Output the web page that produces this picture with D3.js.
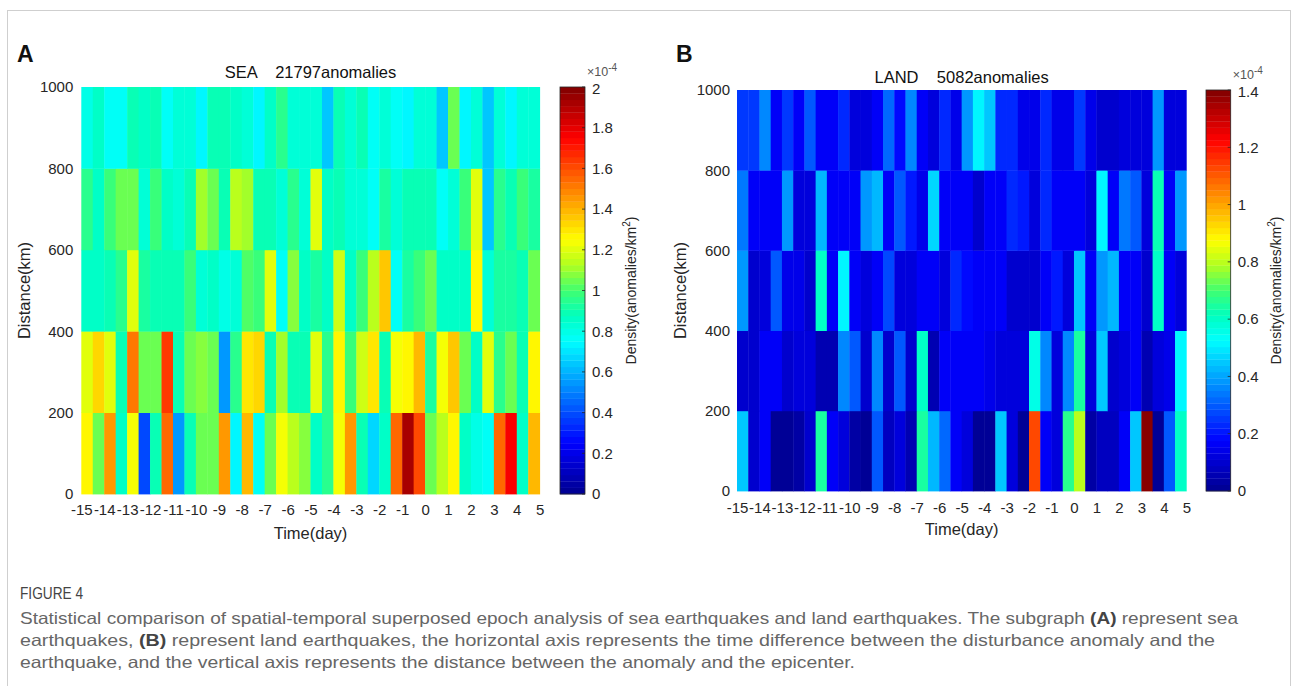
<!DOCTYPE html>
<html>
<head>
<meta charset="utf-8">
<script src="https://cdn.jsdelivr.net/npm/d3@7"></script>
<style>
body { margin: 0; background: #fff; }
svg text { font-family: Arial, 'Liberation Sans', sans-serif; }
.caption { font-family: 'Liberation Sans Narrow', 'Liberation Sans', Arial, sans-serif; }
</style>
</head>
<body>
<svg id="canvas" width="1293" height="686"></svg>
<script>
// half-day bins, start of each bin (day)
let timeBins = [-15, -14.5, -14, -13.5, -13, -12.5, -12, -11.5, -11, -10.5, -10, -9.5, -9, -8.5, -8, -7.5, -7, -6.5, -6, -5.5,
    -5, -4.5, -4, -3.5, -3, -2.5, -2, -1.5, -1, -0.5, 0, 0.5, 1, 1.5, 2, 2.5, 3, 3.5, 4, 4.5]
let distanceBins = [0, 200, 400, 600, 800]
let dayTicks = [-15, -14, -13, -12, -11, -10, -9, -8, -7, -6, -5, -4, -3, -2, -1, 0, 1, 2, 3, 4, 5]
let distanceTicks = [0, 200, 400, 600, 800, 1000]
let seaTicks = [0, 0.2, 0.4, 0.6, 0.8, 1, 1.2, 1.4, 1.6, 1.8, 2]
let landTicks = [0, 0.2, 0.4, 0.6, 0.8, 1, 1.2, 1.4]

// density x1e-4 anomalies/km2, SEA
let sea_0_200 = [1.28, 1.05, 1.45, 0.87, 1.23, 0.40, 0.88, 1.55, 0.55, 0.88, 1.05, 1.05, 1.45, 0.73, 1.40, 0.75, 1.05, 1.22, 1.15, 1.07,
    0.85, 0.95, 1.22, 1.45, 0.88, 0.68, 0.85, 1.55, 1.92, 1.60, 1.05, 1.13, 1.28, 0.85, 0.80, 0.75, 1.55, 1.75, 0.87, 1.38]
let sea_200_400 = [1.20, 1.33, 1.20, 0.88, 1.52, 1.05, 1.05, 1.65, 0.90, 1.05, 1.08, 1.05, 0.55, 0.95, 1.30, 1.33, 0.88, 1.12, 0.88, 0.88,
    1.20, 0.95, 1.25, 0.97, 1.18, 1.30, 0.88, 1.22, 1.28, 1.38, 0.93, 1.22, 1.35, 1.05, 0.87, 1.20, 0.95, 1.05, 0.88, 1.28]
let sea_400_600 = [0.85, 0.85, 0.90, 0.95, 1.20, 0.93, 0.90, 0.90, 0.90, 0.97, 0.83, 0.85, 0.80, 0.83, 1.03, 0.97, 1.20, 0.75, 1.07, 0.85,
    0.93, 0.85, 1.18, 0.85, 0.97, 1.15, 1.35, 0.75, 0.93, 0.97, 1.05, 0.85, 0.85, 0.85, 1.27, 0.82, 0.92, 0.92, 0.90, 1.05]
let sea_600_800 = [0.95, 0.85, 0.97, 1.05, 1.05, 0.82, 0.97, 0.87, 0.83, 0.90, 1.10, 1.05, 0.90, 1.15, 1.10, 0.90, 0.90, 0.83, 0.95, 0.82,
    1.20, 0.85, 0.88, 0.82, 0.82, 0.77, 0.93, 0.83, 0.90, 0.90, 0.90, 0.78, 0.82, 0.97, 1.20, 0.63, 0.95, 0.88, 0.97, 0.93]
let sea_800_1000 = [0.80, 0.85, 0.75, 0.78, 0.90, 0.85, 0.88, 0.77, 0.82, 0.83, 0.72, 0.90, 0.90, 0.85, 0.83, 0.72, 0.85, 0.95, 0.83, 0.83,
    0.83, 0.65, 0.88, 0.82, 0.88, 0.76, 0.82, 0.78, 0.73, 0.83, 0.83, 0.65, 1.05, 0.72, 0.83, 0.63, 0.83, 0.72, 0.84, 0.84]

// LAND
let land_0_200 = [0.44, 0.09, 0.17, 0.02, 0.02, 0.04, 0.10, 0.65, 0.17, 0.12, 0.04, 0.01, 0.29, 0.07, 0.12, 0.06, 0.65, 0.42, 0.31, 0.16,
    0.12, 0.01, 0.01, 0.44, 0.12, 0.02, 1.12, 0.17, 0.12, 0.66, 0.80, 0.04, 0.07, 0.07, 0.17, 0.44, 1.38, 0.02, 0.29, 0.60]
let land_200_400 = [0.09, 0.09, 0.17, 0.17, 0.10, 0.12, 0.12, 0.06, 0.06, 0.35, 0.29, 0.10, 0.35, 0.10, 0.29, 0.10, 0.60, 0.06, 0.17, 0.16,
    0.17, 0.17, 0.14, 0.12, 0.12, 0.12, 0.55, 0.35, 0.12, 0.35, 0.65, 0.12, 0.44, 0.10, 0.12, 0.17, 0.06, 0.12, 0.14, 0.52]
let land_400_600 = [0.38, 0.09, 0.12, 0.29, 0.14, 0.14, 0.09, 0.60, 0.17, 0.52, 0.17, 0.12, 0.17, 0.27, 0.12, 0.12, 0.16, 0.16, 0.12, 0.23,
    0.19, 0.17, 0.17, 0.17, 0.10, 0.10, 0.09, 0.17, 0.20, 0.12, 0.44, 0.17, 0.38, 0.43, 0.16, 0.16, 0.10, 0.60, 0.17, 0.12]
let land_600_800 = [0.33, 0.17, 0.17, 0.17, 0.38, 0.12, 0.12, 0.43, 0.17, 0.17, 0.17, 0.38, 0.43, 0.17, 0.29, 0.20, 0.14, 0.48, 0.17, 0.17,
    0.16, 0.10, 0.17, 0.17, 0.23, 0.20, 0.12, 0.23, 0.17, 0.17, 0.17, 0.12, 0.52, 0.17, 0.33, 0.29, 0.12, 0.62, 0.17, 0.38]
let land_800_1000 = [0.25, 0.25, 0.37, 0.17, 0.25, 0.17, 0.29, 0.16, 0.16, 0.24, 0.12, 0.12, 0.17, 0.31, 0.18, 0.37, 0.17, 0.12, 0.23, 0.14,
    0.38, 0.52, 0.44, 0.24, 0.24, 0.14, 0.14, 0.23, 0.15, 0.15, 0.25, 0.14, 0.10, 0.10, 0.12, 0.12, 0.12, 0.39, 0.12, 0.12]

let seaRows = [sea_0_200, sea_200_400, sea_400_600, sea_600_800, sea_800_1000]
let landRows = [land_0_200, land_200_400, land_400_600, land_600_800, land_800_1000]

// jet-like colormap, 64 levels like matlab
let jet = d3.scaleLinear()
    .domain([0, 0.125, 0.25, 0.375, 0.4375, 0.5, 0.5625, 0.625, 0.75, 0.875, 1])
    .range(['#00008f', '#0000ff', '#0080ff', '#00ffff', '#00ffbf', '#40ff70', '#b0ff20', '#ffff00', '#ff8000', '#ff0000', '#800000'])
    .interpolate(d3.interpolateRgb)
let levelColor = (v, max) => {
    let k = Math.max(0, Math.min(63, Math.floor(v / max * 64)))
    return jet((k + 0.5) / 64)
}

let canvas = d3.select('#canvas')

let panels = [
    { letter: 'A', letterX: 17, title: 'SEA    21797anomalies', titleY: 78, rows: seaRows, max: 2, ticks: seaTicks,
      left: 81.3, right: 539.7, top: 87, bottom: 494, yPad: 8, xPad: 10, yLabelX: 30, xLabelY: 539,
      cbX: 560, cbW: 25, cbPad: 7, expY: 76, cbLabelX: 636 },
    { letter: 'B', letterX: 676, title: 'LAND    5082anomalies', titleY: 83, rows: landRows, max: 1.4, ticks: landTicks,
      left: 737, right: 1186.3, top: 90, bottom: 491, yPad: 7, xPad: 11, yLabelX: 686, xLabelY: 535,
      cbX: 1206, cbW: 24.7, cbPad: 7, expY: 79, cbLabelX: 1281 }
]

// figure frame
canvas.append('rect')
    .attr('x', 7.5).attr('y', 10.5)
    .attr('width', 1283).attr('height', 690)
    .attr('fill', 'none')
    .attr('stroke', '#cfcfcf')
    .attr('stroke-width', 1)

let drawPanel = (p) => {
    let x = d3.scaleLinear().domain([-15, 5]).range([p.left, p.right])
    let y = d3.scaleLinear().domain([0, 1000]).range([p.bottom, p.top])
    let g = canvas.append('g')

    let cells = []
    p.rows.forEach((row, r) => {
        row.forEach((v, i) => {
            cells.push({ t: timeBins[i], d: distanceBins[r], v: v })
        })
    })

    g.selectAll('rect.cell')
        .data(cells)
        .enter()
        .append('rect')
        .attr('class', 'cell')
        .attr('x', (c) => x(c.t))
        .attr('y', (c) => y(c.d + 200))
        .attr('width', (c) => x(c.t + 0.5) - x(c.t) + 0.4)
        .attr('height', (c) => y(c.d) - y(c.d + 200) + 0.4)
        .attr('fill', (c) => levelColor(c.v, p.max))

    // axes
    let yAxis = g.append('g')
        .attr('transform', 'translate(' + p.left + ',0)')
        .call(d3.axisLeft(y).tickValues(distanceTicks).tickSize(0).tickPadding(p.yPad).tickFormat((d) => String(d)))
    let xAxis = g.append('g')
        .attr('transform', 'translate(0,' + p.bottom + ')')
        .call(d3.axisBottom(x).tickValues(dayTicks).tickSize(0).tickPadding(p.xPad).tickFormat((d) => String(d)))
    ;[yAxis, xAxis].forEach((a) => {
        a.select('.domain').remove()
        a.selectAll('text')
            .attr('font-size', '15px')
            .attr('font-family', 'Arial, Liberation Sans, sans-serif')
            .attr('fill', '#262626')
    })

    // title, labels
    g.append('text')
        .attr('x', (p.left + p.right) / 2)
        .attr('y', p.titleY)
        .attr('text-anchor', 'middle')
        .attr('font-size', '16.5px')
        .attr('fill', '#111')
        .style('white-space', 'pre')
        .text(p.title)
    g.append('text')
        .attr('x', (p.left + p.right) / 2)
        .attr('y', p.xLabelY)
        .attr('text-anchor', 'middle')
        .attr('font-size', '16.5px')
        .attr('fill', '#262626')
        .text('Time(day)')
    g.append('text')
        .attr('transform', 'translate(' + p.yLabelX + ',' + (p.top + p.bottom) / 2 + ') rotate(-90)')
        .attr('text-anchor', 'middle')
        .attr('font-size', '16.5px')
        .attr('fill', '#262626')
        .text('Distance(km)')
    g.append('text')
        .attr('x', p.letterX)
        .attr('y', 62)
        .attr('font-size', '23px')
        .attr('font-weight', 'bold')
        .attr('fill', '#111')
        .text(p.letter)

    // colorbar
    let c = d3.scaleLinear().domain([0, p.max]).range([p.bottom, p.top])
    let levels = d3.range(64)
    g.selectAll('rect.level')
        .data(levels)
        .enter()
        .append('rect')
        .attr('class', 'level')
        .attr('x', p.cbX)
        .attr('y', (k) => c((k + 1) / 64 * p.max))
        .attr('width', p.cbW)
        .attr('height', (k) => c(k / 64 * p.max) - c((k + 1) / 64 * p.max) + 0.3)
        .attr('fill', (k) => jet((k + 0.5) / 64))
    g.append('rect')
        .attr('x', p.cbX).attr('y', p.top)
        .attr('width', p.cbW).attr('height', p.bottom - p.top)
        .attr('fill', 'none')
        .attr('stroke', '#262626')
        .attr('stroke-width', 0.8)
    let cAxis = g.append('g')
        .attr('transform', 'translate(' + (p.cbX + p.cbW) + ',0)')
        .call(d3.axisRight(c).tickValues(p.ticks).tickSize(0).tickPadding(p.cbPad).tickFormat((d) => String(d)))
    cAxis.select('.domain').remove()
    cAxis.selectAll('text')
        .attr('font-size', '15px')
        .attr('font-family', 'Arial, Liberation Sans, sans-serif')
        .attr('fill', '#262626')
    // top label sits just under the exponent, nudge it down a touch
    cAxis.selectAll('.tick').filter((d) => d === p.max)
        .select('text').attr('dy', '0.45em')
    g.selectAll('line.cbtick')
        .data(p.ticks)
        .enter()
        .append('line')
        .attr('class', 'cbtick')
        .attr('x1', p.cbX + p.cbW - 3)
        .attr('x2', p.cbX + p.cbW)
        .attr('y1', (d) => c(d))
        .attr('y2', (d) => c(d))
        .attr('stroke', '#262626')
        .attr('stroke-width', 0.8)

    let exp = g.append('text')
        .attr('x', p.cbX + p.cbW + 2)
        .attr('y', p.expY)
        .attr('font-size', '12.5px')
        .attr('fill', '#555')
    exp.append('tspan').text('\u00d710')
    exp.append('tspan').attr('dy', -5).attr('font-size', '10px').text('-4')

    let lab = g.append('text')
        .attr('transform', 'translate(' + p.cbLabelX + ',' + (p.top + p.bottom) / 2 + ') rotate(-90)')
        .attr('text-anchor', 'middle')
        .attr('font-size', '14px')
        .attr('fill', '#262626')
    lab.append('tspan').text('Density(anomalies/km')
    lab.append('tspan').attr('dy', -6).attr('font-size', '10px').text('2')
    lab.append('tspan').attr('dy', 6).text(')')
}

panels.forEach(drawPanel)

// caption
canvas.append('text')
    .attr('class', 'caption')
    .attr('x', 20).attr('y', 599)
    .attr('font-size', '17px')
    .attr('fill', '#444')
    .attr('textLength', 63)
    .attr('lengthAdjust', 'spacingAndGlyphs')
    .text('FIGURE 4')

let captionLines = [
    [['Statistical comparison of spatial-temporal superposed epoch analysis of sea earthquakes and land earthquakes. The subgraph ', false], ['(A)', true], [' represent sea', false]],
    [['earthquakes, ', false], ['(B)', true], [' represent land earthquakes, the horizontal axis represents the time difference between the disturbance anomaly and the', false]],
    [['earthquake, and the vertical axis represents the distance between the anomaly and the epicenter.', false]]
]
let captionWidths = [1218, 1195, 835]
let captionY = [624, 646, 668]

captionLines.forEach((parts, i) => {
    let t = canvas.append('text')
        .attr('class', 'caption')
        .attr('x', 20).attr('y', captionY[i])
        .attr('font-size', '16.5px')
        .attr('fill', '#666')
        .attr('textLength', captionWidths[i])
        .attr('lengthAdjust', 'spacingAndGlyphs')
        .style('white-space', 'pre')
    parts.forEach((part) => {
        t.append('tspan')
            .attr('font-weight', part[1] ? 'bold' : 'normal')
            .attr('fill', part[1] ? '#444' : '#666')
            .text(part[0])
    })
})
</script>
</body>
</html>
